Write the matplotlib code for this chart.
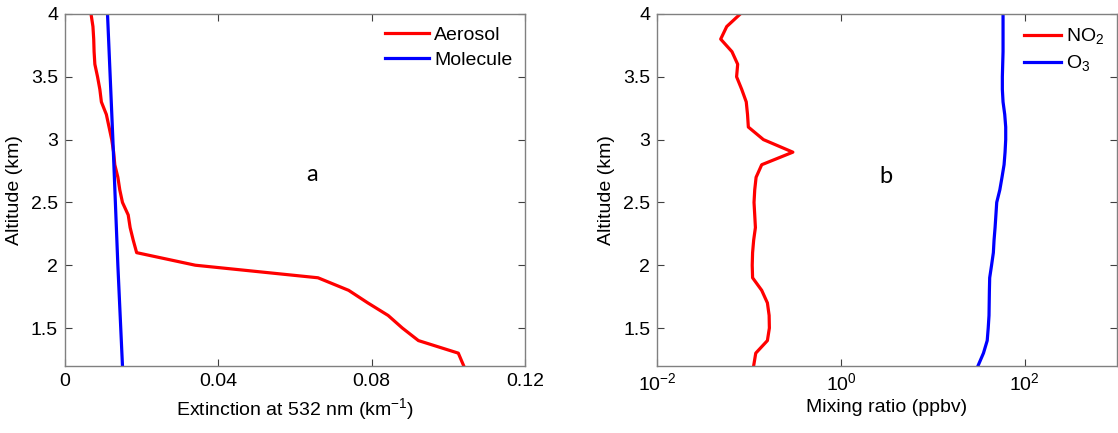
import numpy as np
import matplotlib
matplotlib.use("Agg")
import matplotlib.pyplot as plt

# Profiles, 0.1 km resolution
alt = [1.2, 1.3, 1.4, 1.5, 1.6, 1.7, 1.8, 1.9, 2.0, 2.1, 2.2, 2.3, 2.4, 2.5,
       2.6, 2.7, 2.8, 2.9, 3.0, 3.1, 3.2, 3.3, 3.4, 3.5, 3.6, 3.7, 3.8, 3.9, 4.0]

aerosol = [0.1040, 0.1026, 0.0922, 0.0880, 0.0843, 0.0790, 0.0740, 0.0660,
           0.0340, 0.0187, 0.0178, 0.0170, 0.0165, 0.0150, 0.0143, 0.0138,
           0.0130, 0.0127, 0.0122, 0.0115, 0.0108, 0.0095, 0.0091, 0.0085,
           0.0078, 0.0076, 0.0075, 0.0073, 0.0068]

mol_alt = [1.2, 2.0, 3.0, 4.0]
molecule = [0.0150, 0.0138, 0.0125, 0.0111]

no2 = [0.112, 0.118, 0.158, 0.166, 0.165, 0.158, 0.137, 0.109, 0.108, 0.109,
       0.112, 0.117, 0.115, 0.113, 0.115, 0.119, 0.137, 0.299, 0.143, 0.098,
       0.096, 0.093, 0.083, 0.073, 0.075, 0.065, 0.049, 0.057, 0.080]

o3 = [31.0, 35.5, 39.0, 40.0, 40.8, 41.0, 41.2, 41.5, 43.5, 45.5, 46.3, 47.5,
      48.5, 49.5, 53.5, 56.5, 59.5, 61.0, 62.0, 62.0, 60.5, 58.0, 57.0, 57.0,
      57.5, 58.0, 58.0, 58.0, 58.0]

FONT = "Liberation Sans"
PANEL_FONT = "Lato"
plt.rcParams["font.family"] = FONT
plt.rcParams["mathtext.fontset"] = "custom"
plt.rcParams["mathtext.rm"] = FONT

fig = plt.figure(figsize=(11.18, 4.33), dpi=100)
ax1 = fig.add_axes([0.0581, 0.1554, 0.4115, 0.8123])
ax2 = fig.add_axes([0.5879, 0.1554, 0.4109, 0.8123])


def style(ax):
    for s in ax.spines.values():
        s.set_color("#808080")
        s.set_linewidth(1.0)
    ax.tick_params(direction="in", top=True, right=True, length=5,
                   color="#404040", labelsize=14, pad=5)


ax1.plot(aerosol, alt, color="red", lw=2.3, label="Aerosol")
ax1.plot(molecule, mol_alt, color="blue", lw=2.3, label="Molecule")
ax1.set_xlim(0, 0.12)
ax1.set_ylim(1.2, 4)
ax1.set_xticks([0, 0.04, 0.08, 0.12])
ax1.set_xticklabels(["0", "0.04", "0.08", "0.12"])
ax1.set_yticks([1.5, 2, 2.5, 3, 3.5, 4])
ax1.set_yticklabels(["1.5", "2", "2.5", "3", "3.5", "4"])
ax1.set_xlabel("Extinction at 532 nm (km$^{-1}$)", fontsize=14, labelpad=5)
ax1.set_ylabel("Altitude (km)", fontsize=14, labelpad=6)
ax1.text(0.0644, 2.72, "a", family=PANEL_FONT, fontsize=17, ha="center", va="center")
style(ax1)
ax1.legend(loc="upper right", frameon=False, fontsize=14,
           handlelength=2.3, handletextpad=0.25, labelspacing=0.35,
           borderaxespad=0.25)

ax2.plot(no2, alt, color="red", lw=2.3, label="NO$_2$")
ax2.plot(o3, alt, color="blue", lw=2.3, label="O$_3$")
ax2.set_xscale("log")
ax2.set_xlim(1e-2, 1e3)
ax2.set_ylim(1.2, 4)
ax2.set_xticks([1e-2, 1e0, 1e2])
ax2.xaxis.set_minor_locator(matplotlib.ticker.NullLocator())
ax2.set_yticks([1.5, 2, 2.5, 3, 3.5, 4])
ax2.set_yticklabels(["1.5", "2", "2.5", "3", "3.5", "4"])
ax2.set_xlabel("Mixing ratio (ppbv)", fontsize=14, labelpad=3)
ax2.set_ylabel("Altitude (km)", fontsize=14, labelpad=6)
ax2.text(3.1, 2.71, "b", family=PANEL_FONT, fontsize=17, ha="center", va="center")
style(ax2)
ax2.legend(loc="upper right", frameon=False, fontsize=14,
           handlelength=1.9, handletextpad=0.25, labelspacing=0.35,
           borderaxespad=0.25)

fig.savefig("out.png", dpi=100)
